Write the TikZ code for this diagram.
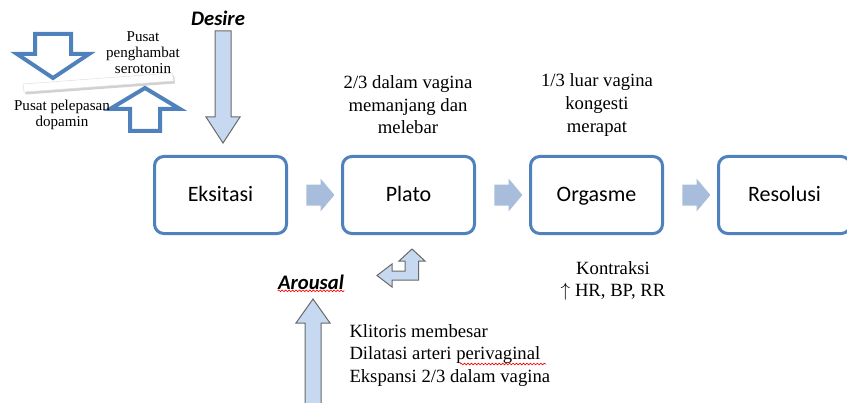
\documentclass[tikz,border=0pt]{standalone}
\usepackage{fontspec}
\setmainfont{Liberation Serif}
\newfontfamily\calibri{Carlito}
\usetikzlibrary{positioning,calc,shapes.arrows,decorations.pathmorphing}

\definecolor{boxblue}{RGB}{79,129,189}
\definecolor{chevblue}{RGB}{167,189,219}
\definecolor{arrowfill}{RGB}{198,217,241}
\definecolor{arrowline}{RGB}{105,105,105}

\tikzset{every picture/.style={line width=0.75pt}}
\tikzset{
  phasebox/.style={draw=boxblue, line width=2.25pt, rounded corners=7pt, fill=white,
    minimum width=99pt, minimum height=57.75pt, inner sep=0pt, outer sep=0pt,
    text height=12.5pt, text depth=2.5pt,
    font=\calibri\fontsize{16.5}{20}\selectfont},
  chevron/.style={single arrow, fill=chevblue, draw=none, minimum height=21pt,
    inner xsep=0pt, inner ysep=7.5pt, text height=0pt, text depth=0pt, text width=0pt,
    single arrow head extend=4.5pt, single arrow tip angle=100},
  serifnote/.style={align=center, inner sep=0.75pt, font=\fontsize{14}{16.9}\selectfont},
  smallnote/.style={align=center, inner sep=0.75pt, font=\fontsize{11.3}{12}\selectfont},
  drivelabel/.style={inner sep=0.75pt, font=\calibri\bfseries\itshape\fontsize{15.5}{18}\selectfont},
  hollowarrow/.style={draw=boxblue, line width=3pt, fill=white},
  blockarrow/.style={draw=arrowline, line width=0.75pt, fill=arrowfill},
  spellmark/.style={draw=red, line width=0.5pt, decorate,
    decoration={snake, amplitude=0.6pt, segment length=2.6pt}},
}

\begin{document}
\begin{tikzpicture}[x=0.75pt,y=0.75pt,yscale=-1,xscale=1]
        \useasboundingbox (0,0) rectangle (847,403);
        \clip (0,0) rectangle (847,403);

        %Phase boxes
        \node [phasebox] (eksitasi) at (220.5,195) {Eksitasi};
        \node [phasebox, right=42pt of eksitasi] (plato) {Plato};
        \node [phasebox, right=42pt of plato] (orgasme) {Orgasme};
        \node [phasebox, right=42pt of orgasme] (resolusi) {Resolusi};

        %Chevrons between phases
        \node [chevron] (chev1) at ($(eksitasi.east)!0.5!(plato.west)+(1.5,0)$) {};
        \node [chevron] (chev2) at ($(plato.east)!0.5!(orgasme.west)+(1.5,0)$) {};
        \node [chevron] (chev3) at ($(orgasme.east)!0.5!(resolusi.west)+(1.5,0)$) {};

        %Shape: Down Arrow [hollow]
        \draw [hollowarrow] (35,34) -- (71,34) -- (71,54) -- (89,54) -- (53,78) -- (17,54) -- (35,54) -- cycle ;
        %Shape: Tilted bar
        \fill [black!18] (24.5,86.5) -- (174,75.5) -- (175,83.5) -- (25.5,94.5) -- cycle ;
        \draw [draw=black!12, line width=0.4pt, fill=white] (23,84) -- (172.5,73) -- (173.5,81) -- (24,92) -- cycle ;
        %Shape: Up Arrow [hollow]
        \draw [hollowarrow] (130,131) -- (130,109) -- (110,109) -- (145,88) -- (180,109) -- (160,109) -- (160,131) -- cycle ;

        %Shape: Down Arrow [Desire]
        \draw [blockarrow] (215,31) -- (231,31) -- (231,117) -- (240,117) -- (223,143) -- (206,117) -- (215,117) -- cycle ;
        %Shape: Up Arrow [Arousal]
        \draw [blockarrow] (313,299) -- (330,323) -- (321,323) -- (321,410) -- (305,410) -- (305,323) -- (296,323) -- cycle ;
        %Shape: Left-Up Arrow
        \draw [blockarrow] (377,275.5) -- (392,264) -- (392,271) -- (405,271) -- (405,261) -- (399,261) -- (412,249) -- (425,261) -- (418.5,261) -- (418.5,280) -- (392,280) -- (392,287) -- cycle ;

        % Text Node
        \draw (218,18) node (desire) [drivelabel] {Desire};
        % Text Node
        \draw (311,282) node (arousal) [drivelabel] {Arousal};
        \draw [spellmark] ($(arousal.south west)+(1,0)$) -- ($(arousal.south east)+(-1,0)$) ;
        % Text Node
        \draw (143,52.5) node (penghambat) [smallnote] {Pusat\\penghambat\\serotonin};
        % Text Node
        \draw (62,114.5) node (pelepasan) [smallnote] {Pusat pelepasan\\dopamin};
        % Text Node
        \draw (408,105) node (platonote) [serifnote] {2/3 dalam vagina\\memanjang dan\\melebar};
        % Text Node
        \draw (597,105) node (orgasmenote) [serifnote] {1/3 luar vagina\\kongesti\\merapat};
        % Text Node
        \draw (613,281) node (kontraksi) [serifnote] {Kontraksi\\$\uparrow$ HR, BP, RR};
        % Text Node
        \draw (348,355.5) node (arousalnote) [serifnote, anchor=west, align=left] {Klitoris membesar\\Dilatasi arteri perivaginal\\Ekspansi 2/3 dalam vagina};
        \coordinate (perivA) at (460,364);
        \coordinate (perivB) at (546,364);
        \draw [spellmark] (perivA) -- (perivB) ;
\end{tikzpicture}
\end{document}
